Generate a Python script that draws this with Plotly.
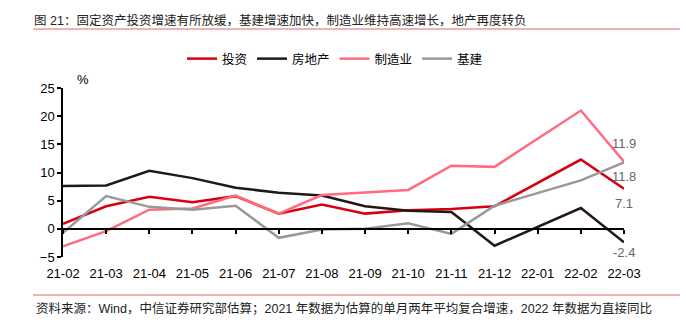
import plotly.graph_objects as go

# ---- data ----
months = ["21-02", "21-03", "21-04", "21-05", "21-06", "21-07", "21-08",
          "21-09", "21-10", "21-11", "21-12", "22-01", "22-02", "22-03"]
invest = [0.9, 4.0, 5.7, 4.7, 5.8, 2.7, 4.3, 2.7, 3.3, 3.5, 4.0, None, 12.3, 7.1]
realty = [7.6, 7.7, 10.3, 9.0, 7.3, 6.4, 5.9, 4.0, 3.2, 3.0, -3.0, None, 3.7, -2.4]
manuf = [-3.1, -0.4, 3.4, 3.6, 5.9, 2.7, 6.0, 6.4, 6.9, 11.2, 11.0, None, 21.0, 11.9]
infra = [-0.7, 5.8, 3.9, 3.4, 4.1, -1.6, -0.1, 0.0, 1.0, -0.9, 4.1, None, 8.6, 11.8]
y_ticks = [-5, 0, 5, 10, 15, 20, 25]

series = [
    ("投资", invest, "#D7000F"),
    ("房地产", realty, "#231815"),
    ("制造业", manuf, "#FF6B7F"),
    ("基建", infra, "#999999"),
]
# vertical offsets (px) of the end-value labels
end_label_shift = {"投资": -15, "房地产": -10, "制造业": 18, "基建": -14}

# ---- layout geometry ----
W, H = 686, 323
ML, MR, MT, MB = 63, 62, 88, 66
PW, PH = W - ML - MR, H - MT - MB
FONT = "Liberation Sans, Arial, Noto Sans CJK SC, sans-serif"


def px_x(x):
    return (x - ML) / PW


def px_y(y):
    return (H - MB - y) / PH


fig = go.Figure()
for name, vals, color in series:
    fig.add_trace(go.Scatter(
        x=months, y=vals, name=name, mode="lines", connectgaps=True,
        line=dict(color=color, width=2.5),
    ))

for name, vals, color in series:
    fig.add_annotation(
        x=months[-1], y=vals[-1], text=f"{vals[-1]:g}", showarrow=False,
        yshift=end_label_shift[name], font=dict(size=13, color="#666666"),
    )

ymin, ymax = y_ticks[0], y_ticks[-1]
zero_pos = (0 - ymin) / (ymax - ymin)

fig.update_layout(
    width=W, height=H,
    margin=dict(l=ML, r=MR, t=MT, b=MB),
    paper_bgcolor="white", plot_bgcolor="white",
    font=dict(family=FONT, size=13, color="#000000"),
    showlegend=True,
    legend=dict(
        orientation="h", x=px_x(182), y=px_y(59), xanchor="left", yanchor="middle",
        font=dict(size=12.5), bgcolor="rgba(0,0,0,0)", itemwidth=30,
    ),
    xaxis=dict(
        type="category", range=[0, len(months) - 1], showgrid=False,
        zeroline=False, showline=False, ticks="outside", ticklen=4,
        tickcolor="rgba(0,0,0,0)", tickfont=dict(size=13),
    ),
    # axis line drawn through y = 0, with tick marks at each month
    xaxis2=dict(
        overlaying="x", anchor="free", position=zero_pos,
        range=[0, len(months) - 1], tickmode="array",
        tickvals=list(range(len(months))), showticklabels=False,
        showline=True, linecolor="#000000", linewidth=1.5,
        ticks="outside", ticklen=4, tickcolor="#000000", tickwidth=1.5,
        showgrid=False, zeroline=False,
    ),
    yaxis=dict(
        range=[ymin, ymax], tickvals=y_ticks, showgrid=False, zeroline=False,
        showline=True, linecolor="#000000", linewidth=1.5,
        ticks="outside", ticklen=4, tickcolor="#000000", tickwidth=1.5,
        tickfont=dict(size=13),
    ),
    title=dict(
        text="图 21：固定资产投资增速有所放缓，基建增速加快，制造业维持高速增长，地产再度转负",
        x=34 / W, y=1 - 21 / H, xanchor="left", yanchor="middle",
        xref="container", yref="container",
        font=dict(size=12.5, color="#222222"),
    ),
)

# dummy trace so the overlay axis is rendered
fig.add_trace(go.Scatter(x=[0], y=[None], xaxis="x2", showlegend=False,
                         hoverinfo="skip"))

# "%" unit label
fig.add_annotation(x=px_x(75), y=px_y(70), xref="paper", yref="paper",
                   text="%", showarrow=False, font=dict(size=13))

# source note
fig.add_annotation(
    x=px_x(34), y=px_y(308), xref="paper", yref="paper", xanchor="left",
    yanchor="middle", showarrow=False, font=dict(size=12.5, color="#222222"),
    text="资料来源：Wind，中信证券研究部估算；2021 年数据为估算的单月两年平均复合增速，2022 年数据为直接同比",
)

# header and footer rules
for yy in (29, 295):
    fig.add_shape(type="line", xref="paper", yref="paper",
                  x0=px_x(33), x1=px_x(680), y0=px_y(yy), y1=px_y(yy),
                  line=dict(color="#E89A9A", width=1.5))

fig.write_html("out.html")
